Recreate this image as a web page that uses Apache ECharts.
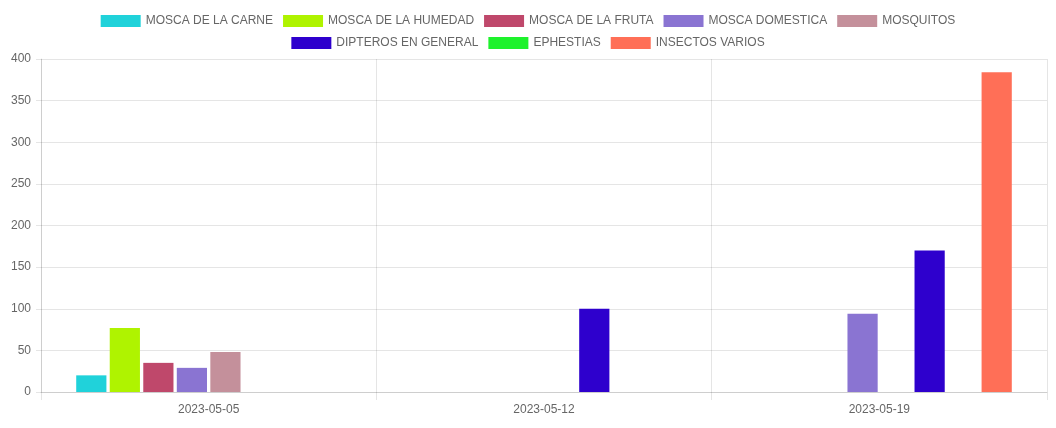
<!DOCTYPE html>
<html>
<head>
<meta charset="utf-8">
<script src="https://cdn.jsdelivr.net/npm/echarts@6/dist/echarts.min.js"></script>
<style>
  html, body { margin: 0; padding: 0; background: #fff; }
  #main { width: 1056px; height: 428px; }
</style>
</head>
<body>
<div id="main"></div>
<script>
// fechas de muestreo
const fechas = ['2023-05-05', '2023-05-12', '2023-05-19'];

const nombres = ['MOSCA DE LA CARNE', 'MOSCA DE LA HUMEDAD', 'MOSCA DE LA FRUTA', 'MOSCA DOMESTICA',
  'MOSQUITOS', 'DIPTEROS EN GENERAL', 'EPHESTIAS', 'INSECTOS VARIOS'];
const colores = ['#20d2da', '#aff300', '#bf486b', '#8a74d2', '#c4909b', '#2e00cd', '#1ef22c', '#ff6f57'];

// capturas por tipo de insecto
const moscaCarne = [20, 0, 0];
const moscaHumedad = [77, 0, 0];
const moscaFruta = [35, 0, 0];
const moscaDomestica = [29, 0, 94];
const mosquitos = [48, 0, 0];
const dipteros = [0, 100, 170];
const ephestias = [0, 0, 0];
const insectosVarios = [0, 0, 384];

const valores = [moscaCarne, moscaHumedad, moscaFruta, moscaDomestica, mosquitos, dipteros, ephestias, insectosVarios];

const yTicks = { min: 0, max: 400, interval: 50 };

var myChart = echarts.init(document.getElementById('main'));

const txt = { color: '#666', fontFamily: 'Liberation Sans, Arial, sans-serif', fontSize: 12 };
const gris = 'rgba(0,0,0,0.1)';

function leyenda(top, items) {
  return {
    top: top, left: 'center', padding: 0,
    itemWidth: 40, itemHeight: 12, itemGap: 10,
    icon: 'rect',
    textStyle: txt,
    selectedMode: false,
    data: items
  };
}

myChart.setOption({
  animation: false,
  color: colores,
  legend: [leyenda(15, nombres.slice(0, 5)), leyenda(37, nombres.slice(5))],
  grid: { left: 41, right: 9, top: 59, bottom: 36 },
  xAxis: {
    type: 'category',
    data: fechas,
    axisLine: { lineStyle: { color: gris } },
    axisTick: { show: true, length: 8, lineStyle: { color: gris } },
    splitLine: { show: true, lineStyle: { color: gris } },
    axisLabel: Object.assign({ margin: 12 }, txt)
  },
  yAxis: {
    type: 'value',
    min: yTicks.min, max: yTicks.max, interval: yTicks.interval,
    axisLine: { show: true, lineStyle: { color: gris } },
    axisTick: { show: true, length: 5, lineStyle: { color: gris } },
    splitLine: { lineStyle: { color: gris } },
    axisLabel: Object.assign({ margin: 10 }, txt)
  },
  series: nombres.map((n, i) => ({
    name: n,
    type: 'bar',
    data: valores[i],
    barGap: '11%',
    barCategoryGap: '21%',
    itemStyle: { color: colores[i] }
  }))
});
</script>
</body>
</html>
